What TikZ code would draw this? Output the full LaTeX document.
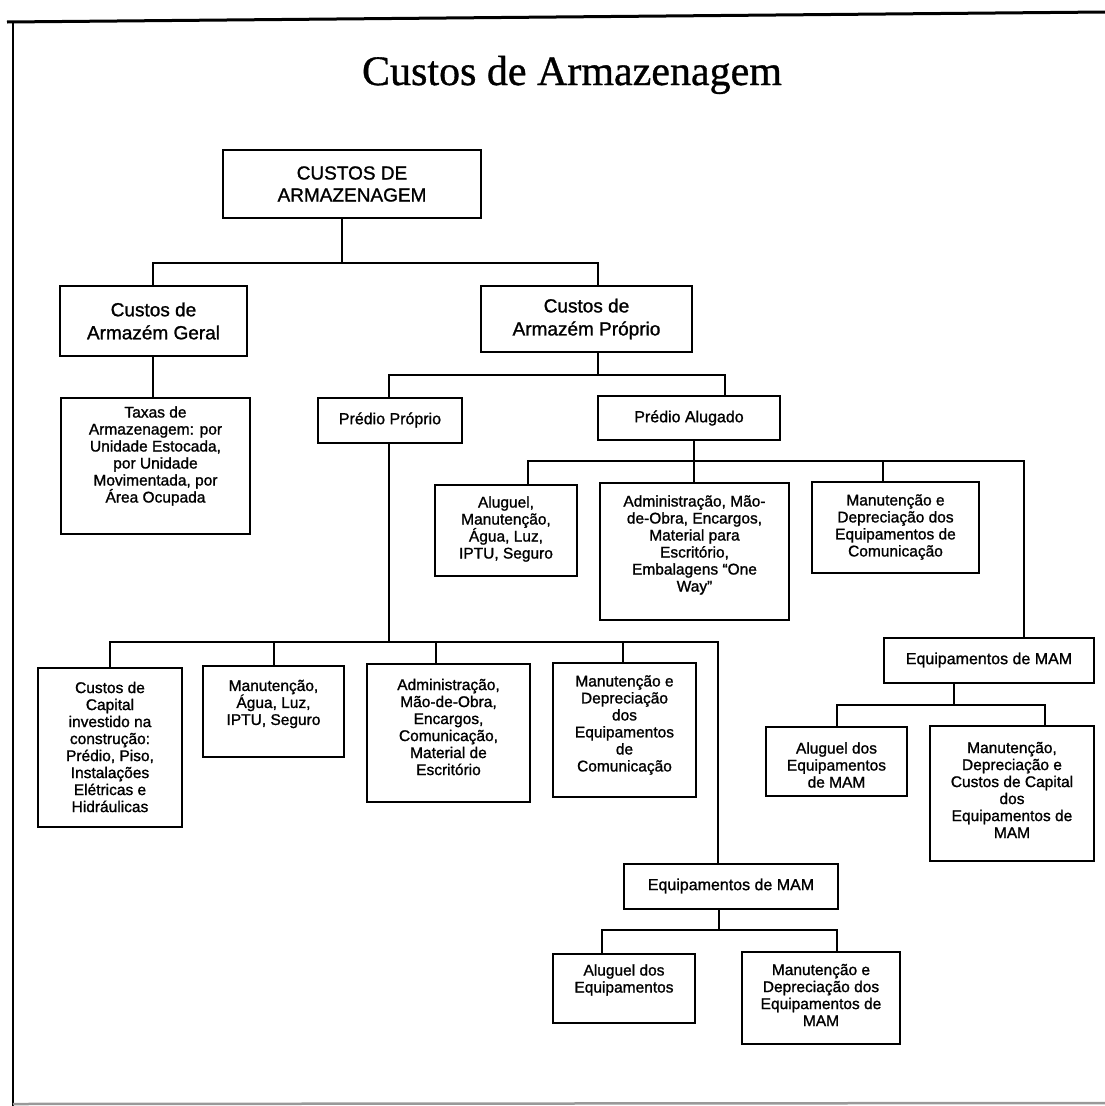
\documentclass[tikz,border=0pt]{standalone}
\usepackage{fontspec}
\setmainfont{Liberation Serif}[FakeBold=0.6]
\newfontfamily\boxfont{Liberation Sans}[FakeBold=1.2]
\newfontfamily\titlefont{Liberation Serif}[FakeBold=0.8]
\usetikzlibrary{fit}

% box drawn from its corners, with its text centred at a given height
\newcommand\cbox[8]{%
  \node[frame, fit={(#2,#3) (#4,#5)}] (#1) {};
  \node[#7] (#1-t) at ({(#2+#4)/2},#6) {#8};}

\tikzset{
  frame/.style={draw, line width=2.5pt, inner sep=0pt, fill=white},
  wire/.style={line width=2.2pt},
  small/.style={font=\boxfont\fontsize{15.5}{17}\selectfont, align=center, inner sep=0pt},
  head/.style={font=\boxfont\fontsize{16}{18}\selectfont, align=center, inner sep=0pt},
  mid/.style={font=\boxfont\fontsize{19}{23}\selectfont, align=center, inner sep=0pt},
  top/.style={font=\boxfont\fontsize{19}{22}\selectfont, align=center, inner sep=0pt},
}

\begin{document}
\begin{tikzpicture}[x=1pt,y=-1pt]
\useasboundingbox (0,0) rectangle (1105,1106);

% page frame
\draw[line width=3pt] (7,22) -- (1105,12);
\draw[line width=2.6pt] (13,21) -- (13,1106);
\draw[line width=2.5pt, black!40] (13,1104) -- (1105,1103);

% title
\node[font=\titlefont\fontsize{42}{48}\selectfont, anchor=base, inner sep=0pt] (title) at (572,85) {Custos de Armazenagem};

% boxes
\cbox{root}{223}{150}{481}{218}{184}{top}{CUSTOS DE\\ARMAZENAGEM}
\cbox{geral}{60}{286}{247}{356}{321}{mid}{Custos de\\Armazém Geral}
\cbox{proprio}{481}{286}{692}{352}{319}{mid}{Custos de\\Armazém Próprio}
\cbox{taxas}{61}{398}{250}{534}{456}{small}{Taxas de\\Armazenagem: por\\Unidade Estocada,\\por Unidade\\Movimentada, por\\Área Ocupada}
\cbox{predp}{318}{398}{462}{443}{420}{head}{Prédio Próprio}
\cbox{preda}{598}{396}{780}{440}{418}{head}{Prédio Alugado}

\cbox{aalug}{435}{485}{577}{576}{529}{small}{Aluguel,\\Manutenção,\\Água, Luz,\\IPTU, Seguro}
\cbox{aadm}{600}{483}{789}{620}{545}{small}{Administração, Mão-\\de-Obra, Encargos,\\Material para\\Escritório,\\Embalagens “One\\Way”}
\cbox{acom}{812}{482}{979}{573}{527}{small}{Manutenção e\\Depreciação dos\\Equipamentos de\\Comunicação}
\cbox{amam}{884}{638}{1094}{683}{660}{head}{Equipamentos de MAM}
\cbox{amaml}{766}{727}{907}{796}{765}{small}{Aluguel dos\\Equipamentos\\de MAM}
\cbox{amamm}{930}{726}{1094}{861}{790}{small}{Manutenção,\\Depreciação e\\Custos de Capital\\dos\\Equipamentos de\\MAM}

\cbox{pcap}{38}{668}{182}{827}{747}{small}{Custos de\\Capital\\investido na\\construção:\\Prédio, Piso,\\Instalações\\Elétricas e\\Hidráulicas}
\cbox{pman}{203}{666}{344}{757}{704}{small}{Manutenção,\\Água, Luz,\\IPTU, Seguro}
\cbox{padm}{367}{664}{530}{802}{727}{small}{Administração,\\Mão-de-Obra,\\Encargos,\\Comunicação,\\Material de\\Escritório}
\cbox{pcom}{553}{663}{696}{797}{725}{small}{Manutenção e\\Depreciação\\dos\\Equipamentos\\de\\Comunicação}
\cbox{pmam}{624}{864}{838}{909}{886}{head}{Equipamentos de MAM}
\cbox{pmaml}{553}{954}{695}{1023}{980}{small}{Aluguel dos\\Equipamentos}
\cbox{pmamm}{742}{952}{900}{1044}{995}{small}{Manutenção e\\Depreciação dos\\Equipamentos de\\MAM}

% bus points of the tree
\coordinate (b1m) at (342,263); \coordinate (b1l) at (153,263); \coordinate (b1r) at (598,263);
\coordinate (b2m) at (598,375); \coordinate (b2l) at (389,375); \coordinate (b2r) at (725,375);
\coordinate (b3m) at (694,461); \coordinate (b3l) at (528,461); \coordinate (b3c) at (883,461); \coordinate (b3r) at (1024,461);
\coordinate (b4m) at (389,642); \coordinate (b4l) at (110,642); \coordinate (b4a) at (274,642);
\coordinate (b4b) at (436,642); \coordinate (b4c) at (623,642); \coordinate (b4r) at (718,642);
\coordinate (b5m) at (954,705); \coordinate (b5l) at (837,705); \coordinate (b5r) at (1045,705);
\coordinate (b6m) at (719,930); \coordinate (b6l) at (602,930); \coordinate (b6r) at (837,930);

% connectors
\draw[wire] (root.south -| b1m) -- (b1m);
\draw[wire] (geral.north -| b1l) -- (b1l) -- (b1r) -- (proprio.north -| b1r);
\draw[wire] (geral.south -| b1l) -- (taxas.north -| b1l);

\draw[wire] (proprio.south -| b2m) -- (b2m);
\draw[wire] (predp.north -| b2l) -- (b2l) -- (b2r) -- (preda.north -| b2r);

\draw[wire] (preda.south -| b3m) -- (b3m);
\draw[wire] (aalug.north -| b3l) -- (b3l) -- (b3r) -- (amam.north -| b3r);
\draw[wire] (b3m) -- (aadm.north -| b3m);
\draw[wire] (b3c) -- (acom.north -| b3c);

\draw[wire] (amam.south -| b5m) -- (b5m);
\draw[wire] (amaml.north -| b5l) -- (b5l) -- (b5r) -- (amamm.north -| b5r);

\draw[wire] (predp.south -| b4m) -- (b4m);
\draw[wire] (pcap.north -| b4l) -- (b4l) -- (b4r) -- (pmam.north -| b4r);
\draw[wire] (b4a) -- (pman.north -| b4a);
\draw[wire] (b4b) -- (padm.north -| b4b);
\draw[wire] (b4c) -- (pcom.north -| b4c);

\draw[wire] (pmam.south -| b6m) -- (b6m);
\draw[wire] (pmaml.north -| b6l) -- (b6l) -- (b6r) -- (pmamm.north -| b6r);
\end{tikzpicture}
\end{document}
